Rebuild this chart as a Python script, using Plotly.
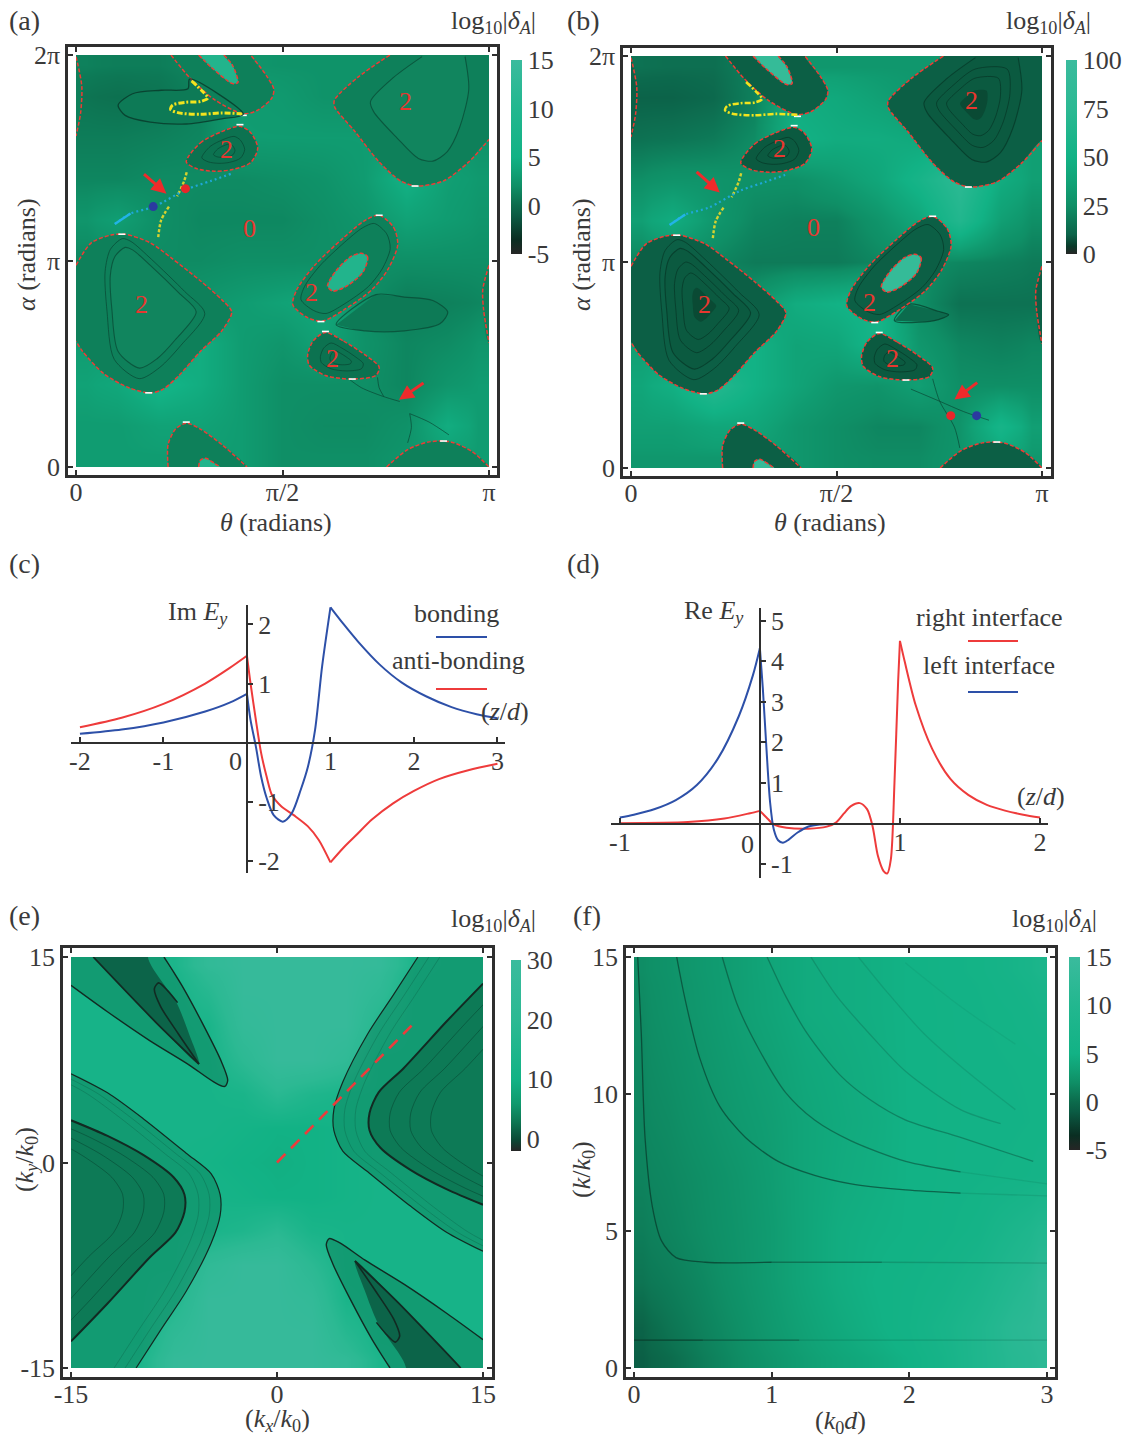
import plotly.graph_objects as go

SERIF = "Liberation Serif"
INK = "#3a3a3a"
FS = 26
W, H = 1130, 1437

# ---------- colour scales ----------
scale_15 = [[0, "#262626"], [0.075, "#0a2e22"], [0.2, "#0b5c44"], [0.25, "#0c6b4c"], [0.35, "#0f8f66"],
            [0.425, "#11a276"], [0.5, "#12b285"], [0.75, "#22b78f"], [1, "#3abb9d"]]
scale_100 = [[0, "#262626"], [0.04, "#0a3a2a"], [0.1, "#0c6349"], [0.25, "#0f8f66"], [0.37, "#11a276"],
             [0.5, "#12b285"], [0.75, "#2cb993"], [1, "#3abb9d"]]
scale_30 = [[0, "#262626"], [0.06, "#0b4a36"], [0.15, "#0d7552"], [0.25, "#0f9a6e"], [0.375, "#12b285"],
            [0.69, "#2cb993"], [1, "#3abb9d"]]

# ---------- panel (a), (b) background ----------
ab_x_edges = [0, .05, .15, .25, .35, .45, .55, .65, .75, .85, .95, 1]
ab_y_edges = [0, .1, .3, .5, .7, .9, 1.1, 1.3, 1.5, 1.7, 1.9, 2]
a_z = [
    [3.0, 3.0, 3.0, 3.0, 3.0, 2.0, 2.0, 2.0, 2.5, 3.0, 3.0],
    [3.0, 3.0, 3.5, 3.5, 3.0, 2.0, 1.8, 1.8, 2.2, 4.5, 3.0],
    [3.5, 4.0, 5.5, 4.5, 3.0, 2.0, 2.0, 2.0, 1.5, 2.5, 3.0],
    [3.0, 3.0, 3.0, 4.5, 3.0, 2.5, 3.5, 2.2, 1.5, 1.8, 2.5],
    [2.5, 2.0, 2.0, 2.5, 3.0, 3.5, 4.0, 2.0, 1.0, 1.2, 1.5],
    [1.5, 1.8, 1.8, 1.8, 2.0, 2.0, 2.0, 2.0, 2.0, 2.0, 2.0],
    [2.5, 3.2, 2.0, 1.6, 1.6, 1.6, 2.0, 2.5, 3.5, 3.0, 2.5],
    [1.5, 1.5, 1.8, 1.8, 1.8, 2.0, 2.3, 3.0, 5.0, 3.2, 2.8],
    [1.0, 1.0, 1.2, 1.5, 3.0, 3.0, 3.0, 3.0, 3.0, 2.7, 2.3],
    [0.5, 0.3, 0.5, 1.2, 3.0, 2.8, 2.3, 2.3, 2.3, 2.3, 2.3],
    [1.2, 1.0, 1.0, 1.5, 2.5, 2.3, 2.3, 2.3, 2.3, 2.3, 2.3],
]
b_z = [
    [30, 30, 30, 30, 30, 25, 24, 24, 28, 35, 30],
    [35, 35, 40, 40, 30, 25, 22, 22, 28, 55, 35],
    [40, 48, 68, 50, 38, 30, 28, 35, 25, 25, 25],
    [35, 35, 35, 50, 38, 40, 55, 30, 22, 20, 22],
    [25, 20, 20, 30, 45, 50, 55, 25, 15, 15, 15],
    [20, 25, 22, 18, 18, 18, 22, 25, 22, 20, 18],
    [35, 45, 30, 22, 20, 20, 28, 40, 65, 35, 25],
    [25, 28, 28, 26, 26, 32, 40, 55, 75, 45, 35],
    [15, 16, 18, 24, 50, 45, 45, 42, 42, 38, 35],
    [10, 10, 12, 20, 45, 42, 36, 30, 30, 30, 30],
    [15, 14, 14, 20, 30, 30, 30, 30, 30, 30, 30],
]

# ---------- island outlines shared by (a), (b); theta/pi, alpha/pi ----------
left_x = [0, .037, .085, .119, .180, .232, .301, .353, .377, .353, .301, .249, .210, .180, .128, .068, .016, 0]
left_y = [.979, 1.088, 1.126, 1.130, 1.088, 1.013, .904, .812, .753, .661, .561, .444, .377, .360, .385, .452, .561, .611]
left_in_x = [.119, .094, .083, .087, .102, .154, .197, .241, .291, .249, .180, .137]
left_in_y = [1.066, 1.021, .929, .762, .561, .480, .527, .619, .753, .845, .979, 1.054]
left_centre = (.175, .80)
ur_x = [.760, .682, .626, .626, .674, .734, .786, .825, .890, .951, 1]
ur_y = [2, 1.891, 1.782, 1.749, 1.632, 1.481, 1.389, 1.364, 1.389, 1.481, 1.590]
ur_in_x = [.838, .769, .713, .721, .777, .829, .864, .899, .929, .951, .942]
ur_in_y = [1.992, 1.891, 1.774, 1.724, 1.598, 1.498, 1.485, 1.531, 1.649, 1.833, 1.992]
ur_centre = (.835, 1.77)
ul_x = [0, .014, .011, 0]
ul_y = [1.992, 1.849, 1.716, 1.607]
er_x = [1, .985, .987, 1]
er_y = [.979, .862, .762, .603]
top_x = [.230, .275, .336, .405, .440, .474, .479, .461, .423]
top_y = [2, 1.891, 1.782, 1.715, 1.732, 1.791, 1.833, 1.900, 2]
top_h_x = [.297, .327, .379, .392, .379, .358]
top_h_y = [2, 1.941, 1.861, 1.866, 1.950, 2]
bot_x = [.223, .223, .241, .267, .301, .353, .414]
bot_y = [0, .109, .184, .213, .184, .109, 0]
bot_h_x = [.297, .301, .314, .336, .349]
bot_h_y = [0, .033, .042, .017, 0]
mid_x = [.267, .301, .353, .397, .423, .440, .423, .379, .336, .293]
mid_y = [1.481, 1.573, 1.628, 1.654, 1.623, 1.548, 1.478, 1.444, 1.436, 1.448]
cen_x = [.734, .769, .779, .756, .717, .648, .596, .561, .525, .535, .578, .648, .700]
cen_y = [1.222, 1.163, 1.079, .962, .862, .762, .708, .725, .787, .862, .979, 1.113, 1.197]
cen_h_x = [.691, .706, .695, .656, .622, .609, .630, .665]
cen_h_y = [1.038, 1.021, .946, .879, .854, .879, .954, 1.021]
low_x = [.604, .648, .700, .734, .726, .665, .604, .565, .561, .574]
low_y = [.653, .611, .544, .485, .444, .427, .444, .494, .544, .611]
br_x = [.752, .803, .855, .907, .959, 1]
br_y = [0, .084, .122, .122, .075, 0]
lens1_x = [.275, .271, .206, .137, .102, .119, .180, .267, .353, .405]
lens1_y = [1.883, 1.836, 1.829, 1.812, 1.757, 1.707, 1.674, 1.665, 1.690, 1.712]
lens2_x = [.726, .795, .864, .900, .881, .795, .700, .630]
lens2_y = [.837, .825, .808, .753, .695, .661, .661, .691]
lens2b_x = [.676, .747, .773, .738, .641]
lens2b_y = [.795, .761, .744, .715, .715]
yel1_x = [.280, .306, .319, .301, .267, .234, .229, .249, .301, .353, .405]
yel1_y = [1.874, 1.824, 1.791, 1.774, 1.771, 1.757, 1.736, 1.719, 1.712, 1.719, 1.714]
yel2_x = [.268, .262, .245]
yel2_y = [1.431, 1.389, 1.314]
yel3_x = [.225, .206, .199]
yel3_y = [1.264, 1.197, 1.113]
cyan_x = [.094, .132, .189, .267, .327, .375]
cyan_y = [1.180, 1.230, 1.264, 1.347, 1.389, 1.423]
cyan2_x = [.094, .132]
cyan2_y = [1.180, 1.230]
white_x = [.405, .397, .734, .593, .604, .669, .821, .267, .176, .111, .890]
white_y = [1.707, 1.662, 1.222, .706, .658, .427, 1.364, .218, .360, 1.130, .126]
thin_a = [([.661, .691, .743, .784], [.427, .385, .343, .318]),
          ([.730, .734, .745], [.435, .385, .343]),
          ([.808, .855, .903], [.259, .218, .156]),
          ([.808, .812, .803], [.259, .192, .117])]
thin_b = [([.681, .751, .809, .871], [.383, .324, .274, .232]),
          ([.734, .751, .787, .800], [.433, .324, .198, .097])]
a_marks = [(.797, 1.774, "2"), (.364, 1.540, "2"), (.420, 1.160, "0"), (.158, .787, "2"), (.570, .845, "2"), (.621, .527, "2")]
b_marks = [(.829, 1.785, "2"), (.362, 1.55, "2"), (.443, 1.169, "0"), (.179, .794, "2"), (.581, .803, "2"), (.636, .534, "2")]
ab_ticks_x = [0, .5, 1]
ab_ticktext_x = ["0", "π/2", "π"]
ab_ticks_y = [0, 1, 2]
ab_ticktext_y = ["0", "π", "2π"]

# ---------- panel (c) ----------
c_blue_l_x = [-2, -1.5, -1, -.5, -.2, 0]
c_blue_l_y = [.147, .22, .34, .525, .68, .825]
c_blue_m_x = [0, .043, .107, .17, .236, .32, .43, .536, .644, .73, .815, .9, 1]
c_blue_m_y = [.825, .38, -.07, -.58, -.94, -1.23, -1.34, -1.2, -.8, -.41, .21, 1.29, 2.29]
c_blue_r_x = [1, 1.16, 1.33, 1.59, 1.85, 2.15, 2.45, 2.75, 3]
c_blue_r_y = [2.29, 2.0, 1.71, 1.32, 1.02, .78, .6, .48, .41]
c_red_l_x = [-2, -1.5, -1, -.5, -.21, 0]
c_red_l_y = [.26, .42, .655, 1.0, 1.26, 1.47]
c_red_m_x = [0, .043, .107, .17, .236, .30, .41, .56, .73, .86, 1]
c_red_m_y = [1.47, 1.0, .38, -.18, -.58, -.89, -1.08, -1.23, -1.42, -1.65, -2.03]
c_red_r_x = [1, 1.15, 1.3, 1.5, 1.75, 2.0, 2.3, 2.65, 3]
c_red_r_y = [-2.03, -1.79, -1.58, -1.3, -1.03, -.82, -.62, -.47, -.36]

# ---------- panel (d) ----------
d_blue_l_x = [-1, -.9, -.75, -.6, -.45, -.3, -.15, -.05, 0]
d_blue_l_y = [.15, .22, .36, .58, .95, 1.6, 2.65, 3.65, 4.32]
d_blue_r_x = [0, .021, .047, .073, .099, .13, .164, .204, .269, .347, .426, .517]
d_blue_r_y = [4.32, 3.33, 1.84, .52, -.14, -.41, -.47, -.40, -.22, -.07, -.02, -.01]
d_red_l_x = [-1, -.514, -.253, -.07, 0]
d_red_l_y = [.01, .04, .124, .256, .314]
d_red_m_x = [0, .047, .099, .19, .347, .478, .543, .6, .65, .713, .765, .804, .843, .883, .909, .935, .961, .987, 1]
d_red_m_y = [.314, .15, -.017, -.1, -.124, -.074, .025, .25, .43, .504, .355, -.058, -.80, -1.17, -1.23, -.88, 1.02, 3.5, 4.5]
d_red_r_x = [1, 1.034, 1.112, 1.23, 1.36, 1.49, 1.62, 1.75, 1.88, 2]
d_red_r_y = [4.5, 3.99, 2.92, 1.84, 1.10, .70, .46, .32, .22, .15]

# ---------- panel (e) ----------
e_edges = [-15, -13.75, -11.25, -8.75, -6.25, -3.75, -1.25, 1.25, 3.75, 6.25, 8.75, 11.25, 13.75, 15]
e_z = [
    [12, 12, 14, 26, 27, 27, 27, 27, 24, 14, 12, 12, 12],
    [12, 12, 12, 22, 27, 27, 27, 27, 18, 12, 12, 12, 12],
    [12, 12, 12, 16, 27, 27, 27, 25, 13, 12, 12, 12, 12],
    [12, 12, 12, 12, 23, 27, 27, 20, 12, 12, 12, 12, 12],
    [12, 12, 12, 12, 13, 15, 19, 13, 12, 12, 12, 12, 12],
    [12, 12, 12, 12, 12, 11, 10, 10, 11, 12, 12, 12, 12],
    [12, 12, 12, 12, 11, 10, 9.5, 10, 11, 12, 12, 12, 12],
    [12, 12, 12, 12, 12, 11, 10, 10, 11, 12, 12, 12, 12],
    [12, 12, 12, 12, 12, 13, 19, 15, 13, 12, 12, 12, 12],
    [12, 12, 12, 12, 12, 20, 27, 27, 23, 12, 12, 12, 12],
    [12, 12, 12, 12, 13, 25, 27, 27, 27, 16, 12, 12, 12],
    [12, 12, 12, 12, 18, 27, 27, 27, 27, 22, 12, 12, 12],
    [12, 12, 12, 14, 24, 27, 27, 27, 27, 26, 14, 12, 12],
]
e_out_x = [10.26, 8.44, 6.61, 4.79, 4.14, 4.14, 4.79, 6.61, 9.74, 12.34, 15]
e_out_y = [15, 12.18, 9.40, 5.87, 3.86, 2.34, .83, -.68, -3.20, -5.09, -6.48]
e_in_x = [15, 12.34, 9.22, 7.40, 6.74, 6.74, 7.53, 9.74, 12.34, 15]
e_in_y = [13.06, 10.29, 6.88, 5.12, 3.61, 2.34, 1.08, -.55, -1.94, -3.08]
e_w_x = [-15, -12.4, -9.27, -6.41, -4.58, -3.80, -3.59, -4.06, -5.36, -6.93, -8.23]
e_w_y = [12.93, 11.04, 8.90, 7.13, 5.87, 5.55, 6.0, 7.39, 10.03, 12.93, 15]
e_d_x = [-13.38, -8.75, -5.68, -6.41, -7.32, -9.40]
e_d_y = [15, 10.16, 7.19, 9.4, 11.67, 15]
e_loop_x = [-5.68, -7.19, -8.49, -8.93, -8.62, -7.97, -7.24]
e_loop_y = [7.19, 9.40, 11.42, 12.68, 13.11, 12.55, 11.67]
e_red_x = [0, 10]
e_red_y = [0, 10.2]
e_ticks = [-15, 0, 15]

# ---------- panel (f) ----------
f_x_edges = [0, .125, .375, .625, .875, 1.125, 1.375, 1.625, 1.875, 2.125, 2.375, 2.625, 2.875, 3]
f_y_edges = [0, .75, 2.25, 4, 6, 8, 10, 12, 14, 15]
f_z = [
    [-.8, 0, 1, 1.8, 2.5, 3.2, 3.8, 4.3, 5, 6.5, 9, 11, 12],
    [-.5, .5, 1.3, 2, 2.8, 3.5, 4.2, 4.8, 5.5, 7, 9, 11.5, 12.5],
    [.5, 1, 1.6, 2.3, 3, 3.8, 4.5, 5, 5.3, 6, 7.5, 10, 12],
    [1, 1.4, 1.9, 2.4, 3, 3.8, 4.5, 4.8, 5, 5.3, 6, 8, 10],
    [1.3, 1.6, 2, 2.5, 3.1, 3.8, 4.3, 4.6, 5, 5.2, 5.4, 5.6, 6],
    [1.5, 1.8, 2.3, 2.8, 3.2, 3.8, 4.2, 4.5, 5, 5.2, 5.3, 5.4, 5.6],
    [1.6, 2, 2.5, 3, 3.4, 4, 4.3, 4.6, 5, 5.2, 5.3, 5.5, 5.6],
    [1.7, 2.2, 2.7, 3.2, 3.7, 4.3, 4.5, 4.7, 5, 5.2, 5.4, 5.8, 6.5],
    [1.9, 2.3, 2.8, 3.2, 3.8, 4.3, 4.5, 4.7, 5, 5.3, 5.6, 6.5, 8],
]
f_curves = [
    ([0, .5], [1.02, 1.02], .85),
    ([.5, 1.2], [1.02, 1.02], .55),
    ([1.2, 3], [1.02, 1.02], .18),
    ([.027, .053, .08, .133, .2, .305, .517, 1.0], [15, 12.2, 8.42, 5.9, 4.64, 4.03, 3.86, 3.86], .75),
    ([1.0, 1.8], [3.86, 3.86], .45),
    ([1.8, 3], [3.86, 3.83], .22),
    ([.31, .371, .477, .623, .808, 1.047, 1.312, 1.577, 1.974, 2.372], [15, 13.46, 11.32, 9.55, 8.42, 7.54, 7.03, 6.72, 6.5, 6.38], .65),
    ([2.372, 3], [6.38, 6.28], .12),
    ([.641, .755, .914, 1.1, 1.312, 1.577, 1.974, 2.372], [15, 13.2, 11.57, 10.06, 9.05, 8.29, 7.54, 7.16], .5),
    ([2.372, 3], [7.16, 6.72], .1),
    ([.967, 1.1, 1.259, 1.497, 1.71, 1.974, 2.372, 2.9], [15, 13.59, 12.2, 10.69, 9.81, 9.05, 8.42, 7.54], .38),
    ([1.285, 1.47, 1.71, 1.974, 2.372, 2.663], [15, 13.59, 12.2, 10.82, 9.43, 8.92], .22),
    ([1.63, 1.84, 2.107, 2.45, 2.77], [15, 13.71, 12.2, 10.69, 9.43], .14),
    ([1.97, 2.37, 2.77], [14.79, 13.2, 11.82], .07),
]

# ---------- helpers ----------
fig = go.Figure()
annotations, shapes, layout = [], [], {}


def fx(p):
    return p / W


def fy(p):
    return 1 - p / H


def axes(n, fr, da, rx, ry, ticks_x, text_x, ticks_y, text_y):
    """Framed, ticked outer axes n with hidden inner axes n+10 that clip the data to the plot area."""
    suffix = "" if n == 1 else str(n)
    sx = (rx[1] - rx[0]) / (da[1] - da[0])
    sy = (ry[1] - ry[0]) / (da[3] - da[2])
    common = dict(showgrid=False, zeroline=False, showline=True, linecolor="#2f2f2f", linewidth=2.5, mirror="ticks",
                  ticks="inside", ticklen=5, tickwidth=2, tickcolor="#2f2f2f",
                  tickfont=dict(family=SERIF, size=FS, color=INK), automargin=False)
    layout["xaxis" + suffix] = dict(common, domain=[fx(fr[0]), fx(fr[1])], anchor="y" + suffix,
                                    range=[rx[0] - (da[0] - fr[0]) * sx, rx[1] + (fr[1] - da[1]) * sx],
                                    tickvals=ticks_x, ticktext=text_x, ticklabelstandoff=-8)
    layout["yaxis" + suffix] = dict(common, domain=[fy(fr[3]), fy(fr[2])], anchor="x" + suffix,
                                    range=[ry[0] - (fr[3] - da[3]) * sy, ry[1] + (da[2] - fr[2]) * sy],
                                    tickvals=ticks_y, ticktext=text_y)
    fig.add_trace(go.Scatter(x=[None], y=[None], xaxis="x" + suffix, yaxis="y" + suffix, mode="lines",
                             hoverinfo="skip", showlegend=False))
    m = str(n + 10)
    layout["xaxis" + m] = dict(domain=[fx(da[0]), fx(da[1])], range=rx, anchor="y" + m, visible=False)
    layout["yaxis" + m] = dict(domain=[fy(da[3]), fy(da[2])], range=ry, anchor="x" + m, visible=False)
    return "x" + m, "y" + m


def heat(x, y, z, xa, ya, scale, zmin, zmax, vals, bar):
    fig.add_trace(go.Heatmap(x=x, y=y, z=z, xaxis=xa, yaxis=ya, colorscale=scale, zmin=zmin, zmax=zmax,
                             zsmooth="best", hoverinfo="skip",
                             colorbar=dict(x=fx(bar[0]), xanchor="left", xpad=0, y=fy(bar[1]), yanchor="top", ypad=0,
                                           thicknessmode="pixels", thickness=bar[2], lenmode="pixels",
                                           len=bar[3] - bar[1], outlinewidth=0, ticks="", tickvals=vals,
                                           ticktext=[str(v) for v in vals],
                                           tickfont=dict(family=SERIF, size=FS, color=INK))))


def fill(x, y, color, xa, ya):
    fig.add_trace(go.Scatter(x=x, y=y, xaxis=xa, yaxis=ya, mode="lines", fill="toself", fillcolor=color,
                             line=dict(width=0, shape="spline", smoothing=.8), hoverinfo="skip", showlegend=False))


def line(x, y, color, width, xa, ya, dash="solid", shape="spline"):
    fig.add_trace(go.Scatter(x=x, y=y, xaxis=xa, yaxis=ya, mode="lines",
                             line=dict(color=color, width=width, dash=dash, shape=shape, smoothing=.8),
                             hoverinfo="skip", showlegend=False))


def closed(v):
    return list(v) + [v[0]]


def ring(x, y, f, centre=None):
    cx, cy = centre if centre else (sum(x) / len(x), sum(y) / len(y))
    return closed([cx + (p - cx) * f for p in x]), closed([cy + (p - cy) * f for p in y])


def note(x, y, text, size=FS, color=INK, xref="paper", yref="paper", **kw):
    annotations.append(dict(x=x, y=y, text=text, showarrow=False, xref=xref, yref=yref, xanchor="center",
                            yanchor="middle", font=dict(family=SERIF, size=size, color=color), **kw))


def note_px(xp, yp, text, size=FS, **kw):
    note(fx(xp), fy(yp), text, size=size, **kw)


def arrow(tail, head, xa, ya):
    annotations.append(dict(x=head[0], y=head[1], ax=tail[0], ay=tail[1], xref=xa, yref=ya, axref=xa, ayref=ya,
                            text="", showarrow=True, arrowhead=2, arrowsize=1, arrowwidth=3, arrowcolor="#ee2b2b",
                            standoff=0, startstandoff=0))


RED = "#ee3b35"
DELTA = "log<sub>10</sub>|<i>δ<sub>A</sub></i>|"


def islands(xa, ya, dark, deep, contour, hole_fill, strong, yellow_w, marks, thin, lens, lens_col, dots, spot):
    fill(lens[0], lens[1], lens_col, xa, ya)
    line(closed(lens[0]), closed(lens[1]), contour, 1.2, xa, ya)
    for x, y in [(mid_x, mid_y), (cen_x, cen_y), (low_x, low_y)]:
        fill(closed(x), closed(y), dark, xa, ya)
    fill(left_x + [-.05, -.05], left_y + [.611, .979], dark, xa, ya)
    fill(ur_x + [1.06, 1.06, .76], ur_y + [1.59, 2.06, 2.06], dark, xa, ya)
    fill(ul_x + [-.05, -.05], ul_y + [1.607, 1.992], dark, xa, ya)
    fill(er_x + [1.05, 1.05], er_y + [.603, .979], dark, xa, ya)
    fill(top_x + [.423, .23], top_y + [2.06, 2.06], dark, xa, ya)
    fill(bot_x + [.414, .223], bot_y + [-.06, -.06], dark, xa, ya)
    fill(br_x + [1, .752], br_y + [-.06, -.06], dark, xa, ya)
    fill(closed(mid_x), closed(mid_y), deep, xa, ya)
    fill(closed(low_x), closed(low_y), deep, xa, ya)
    # fine contours inside islands
    inner = deep if strong else "rgba(20,135,97,.65)"
    fill(closed(left_in_x), closed(left_in_y), inner, xa, ya)
    line(closed(left_in_x), closed(left_in_y), contour, 1.1, xa, ya)
    rx, ry = ring(left_in_x, left_in_y, 1.16)
    line(rx, ry, contour, 1, xa, ya)
    fill(ur_in_x + [.942, .838], ur_in_y + [2.06, 2.06], inner, xa, ya)
    line(ur_in_x, ur_in_y, contour, 1.1, xa, ya)
    for f in ([.75, .55] if strong else []):
        rx, ry = ring(left_in_x, left_in_y, f, left_centre)
        line(rx, ry, contour, 1, xa, ya)
        rx, ry = ring(ur_in_x, ur_in_y, f, ur_centre)
        line(rx, ry, contour, 1, xa, ya)
    for x, y, f in [(cen_x, cen_y, .85), (mid_x, mid_y, .6), (low_x, low_y, .6), (mid_x, mid_y, .3), (low_x, low_y, .3)]:
        rx, ry = ring(x, y, f)
        line(rx, ry, contour, 1, xa, ya)
    if spot:
        rx, ry = ring(left_in_x, left_in_y, .28, left_centre)
        fill(rx, ry, spot, xa, ya)
        rx, ry = ring(ur_in_x, ur_in_y, .28, ur_centre)
        fill(rx, ry, spot, xa, ya)
    # holes
    fill(closed(cen_h_x), closed(cen_h_y), hole_fill, xa, ya)
    fill(top_h_x + [.358, .297], top_h_y + [2.06, 2.06], hole_fill, xa, ya)
    fill(bot_h_x + [.349, .297], bot_h_y + [-.06, -.06], hole_fill, xa, ya)
    # red dashed boundaries
    for x, y in [(left_x, left_y), (ur_x, ur_y), (ul_x, ul_y), (er_x, er_y), (top_x, top_y), (bot_x, bot_y),
                 (br_x, br_y), (top_h_x, top_h_y), (bot_h_x, bot_h_y)]:
        line(x, y, RED, 1.5, xa, ya, dash="4px,2px")
    for x, y in [(mid_x, mid_y), (cen_x, cen_y), (low_x, low_y), (cen_h_x, cen_h_y)]:
        line(closed(x), closed(y), RED, 1.5, xa, ya, dash="4px,2px")
    for x, y in thin:
        line(x, y, "rgba(8,60,44,.6)", 1, xa, ya)
    # white gaps
    fig.add_trace(go.Scatter(x=white_x, y=white_y, xaxis=xa, yaxis=ya, mode="markers", hoverinfo="skip", showlegend=False,
                             marker=dict(symbol="line-ew", size=5, line=dict(color="white", width=1.6))))
    # yellow / cyan loci
    line(yel1_x, yel1_y, "#f2e41e", yellow_w, xa, ya, dash="6px,2px,2px,2px")
    line(yel2_x, yel2_y, "#d6d22f", 2.4, xa, ya, dash="3px,2px")
    line(yel3_x, yel3_y, "#d6d22f", 2.4, xa, ya, dash="3px,2px")
    line(cyan_x, cyan_y, "#1ea8d8", 2.2, xa, ya, dash="2px,3px")
    line(cyan2_x, cyan2_y, "#22b4e6", 2.4, xa, ya)
    for dx, dy, col in dots:
        fig.add_trace(go.Scatter(x=[dx], y=[dy], xaxis=xa, yaxis=ya, mode="markers", hoverinfo="skip", showlegend=False,
                                 marker=dict(color=col, size=9)))
    for mx, my, t in marks:
        note(mx, my, t, color="#e8372f", xref=xa, yref=ya)


# ---------- panel a ----------
xa, ya = axes(1, (68, 497, 47, 475), (76, 489, 55, 467), [0, 1], [0, 2], ab_ticks_x, ab_ticktext_x, ab_ticks_y, ab_ticktext_y)
heat(ab_x_edges, ab_y_edges, a_z, xa, ya, scale_15, -5, 15, [-5, 0, 5, 10, 15], (511, 60, 11, 254))
fill(lens1_x, lens1_y, "#0d7a56", xa, ya)
islands(xa, ya, "#0e805a", "#0c7250", "rgba(8,70,50,.7)", "#22b48c", False, 3, a_marks, thin_a,
        (lens2_x, lens2_y), "#0d7a56",
        [(.187, 1.264, "#2b3aa0"), (.265, 1.351, "#e8262a")], None)
line(closed(lens1_x), closed(lens1_y), "rgba(8,60,44,.85)", 1.3, xa, ya)
arrow((.161, 1.428), (.219, 1.327), xa, ya)
arrow((.845, .413), (.782, .326), xa, ya)
note_px(276, 522, "<i>θ</i> (radians)")
note_px(26, 255, "<i>α</i> (radians)", textangle=-90)

# ---------- panel b ----------
xa, ya = axes(2, (623, 1051, 48, 476), (631, 1042, 56, 468), [0, 1], [0, 2], ab_ticks_x, ab_ticktext_x, ab_ticks_y, ab_ticktext_y)
heat(ab_x_edges, ab_y_edges, b_z, xa, ya, scale_100, 0, 100, [0, 25, 50, 75, 100], (1066, 60, 11, 254))
islands(xa, ya, "#0c5f45", "#0b5a40", "rgba(6,50,36,.65)", "#35bb98", True, 2.6, b_marks, thin_b,
        (lens2b_x, lens2b_y), "#0c6b4d",
        [(.778, .254, "#e8262a"), (.841, .254, "#2b3aa0")], "#0a4a34")
arrow((.156, 1.444), (.216, 1.337), xa, ya)
arrow((.846, .420), (.787, .332), xa, ya)
note_px(830, 522, "<i>θ</i> (radians)")
note_px(581, 255, "<i>α</i> (radians)", textangle=-90)


# ---------- free-axis line panels ----------
def line_axes(n, fr, rng_x, rng_y, ticks_x, text_x, ticks_y, text_y):
    sfx = str(n)
    x0_frac = fx(fr[0] + (0 - rng_x[0]) / (rng_x[1] - rng_x[0]) * (fr[1] - fr[0]))
    y0_frac = fy(fr[3] - (0 - rng_y[0]) / (rng_y[1] - rng_y[0]) * (fr[3] - fr[2]))
    common = dict(showgrid=False, zeroline=False, showline=True, linecolor="#2f2f2f", linewidth=2, ticklen=5,
                  tickwidth=1.5, tickcolor="#2f2f2f", tickfont=dict(family=SERIF, size=FS, color=INK), automargin=False)
    layout["xaxis" + sfx] = dict(common, domain=[fx(fr[0]), fx(fr[1])], range=rng_x, anchor="free", position=y0_frac,
                                 tickvals=ticks_x, ticktext=text_x, ticks="inside", side="bottom", ticklabelstandoff=-5)
    layout["yaxis" + sfx] = dict(common, domain=[fy(fr[3]), fy(fr[2])], range=rng_y, anchor="free", position=x0_frac,
                                 tickvals=ticks_y, ticktext=text_y, ticks="outside", side="right")
    return "x" + sfx, "y" + sfx


BLUE = "#2d50a8"
CRED = "#ee3b3b"
xa, ya = line_axes(3, (71, 505, 605, 873), [-2.107, 3.09], [-2.21, 2.33], [-2, -1, 0, 1, 2, 3],
                   ["-2", "-1", "", "1", "2", "3"], [-2, -1, 1, 2], ["-2", "-1", "1", "2"])
for x, y, c in [(c_red_l_x, c_red_l_y, CRED), (c_red_m_x, c_red_m_y, CRED), (c_red_r_x, c_red_r_y, CRED),
                (c_blue_l_x, c_blue_l_y, BLUE), (c_blue_m_x, c_blue_m_y, BLUE), (c_blue_r_x, c_blue_r_y, BLUE)]:
    line(x, y, c, 2, xa, ya)
note_px(235, 761, "0")
note_px(198, 613, "Im <i>E<sub>y</sub></i>")
note_px(457, 613, "bonding")
note_px(458, 661, "anti-bonding")
note_px(505, 711, "(<i>z</i>/<i>d</i>)")
shapes.append(dict(type="line", xref="paper", yref="paper", x0=fx(436), x1=fx(487), y0=fy(637), y1=fy(637),
                   line=dict(color=BLUE, width=2)))
shapes.append(dict(type="line", xref="paper", yref="paper", x0=fx(436), x1=fx(487), y0=fy(689), y1=fy(689),
                   line=dict(color=CRED, width=2)))

xa, ya = line_axes(4, (611, 1048, 608, 878), [-1.063, 2.057], [-1.34, 5.31], [-1, 0, 1, 2],
                   ["-1", "", "1", "2"], [-1, 1, 2, 3, 4, 5], ["-1", "1", "2", "3", "4", "5"])
for x, y, c in [(d_red_l_x, d_red_l_y, CRED), (d_red_m_x, d_red_m_y, CRED), (d_red_r_x, d_red_r_y, CRED),
                (d_blue_l_x, d_blue_l_y, BLUE), (d_blue_r_x, d_blue_r_y, BLUE)]:
    line(x, y, c, 2, xa, ya)
note_px(747, 844, "0")
note_px(714, 612, "Re <i>E<sub>y</sub></i>")
note_px(989, 617, "right interface")
note_px(989, 665, "left interface")
note_px(1041, 796, "(<i>z</i>/<i>d</i>)")
shapes.append(dict(type="line", xref="paper", yref="paper", x0=fx(968), x1=fx(1018), y0=fy(641), y1=fy(641),
                   line=dict(color=CRED, width=2)))
shapes.append(dict(type="line", xref="paper", yref="paper", x0=fx(968), x1=fx(1018), y0=fy(692), y1=fy(692),
                   line=dict(color=BLUE, width=2)))

# ---------- panel e ----------
xa, ya = axes(5, (63, 492, 948, 1377), (71, 483, 957, 1368), [-15, 15], [-15, 15],
              e_ticks, ["-15", "0", "15"], e_ticks, ["-15", "0", "15"])
heat(e_edges, e_edges, e_z, xa, ya, scale_30, -2, 30, [0, 10, 20, 30], (511, 960, 10, 1151))
BAND = "rgba(15,135,96,.55)"
for s in (1, -1):
    ox = [s * v for v in e_out_x]
    oy = [s * v for v in e_out_y]
    ix = [s * v for v in e_in_x]
    iy = [s * v for v in e_in_y]
    wx = [s * v for v in e_w_x]
    wy = [s * v for v in e_w_y]
    dx = [s * v for v in e_d_x]
    dy = [s * v for v in e_d_y]
    lx = [s * v for v in e_loop_x]
    ly = [s * v for v in e_loop_y]
    fill(ox + [s * 17, s * 17, s * 10.26], oy + [s * -6.48, s * 17, s * 17], BAND, xa, ya)
    for off in (.8, 1.6):
        line([v + s * off for v in ox], oy, "rgba(8,70,50,.25)", 1, xa, ya)
    fill(ix + [s * 17, s * 17], iy + [s * -3.08, s * 13.06], "#0d7a56", xa, ya)
    for off in (1.5, 3, 4.5):
        line([v + s * off for v in ix], iy, "rgba(6,50,36,.4)", 1, xa, ya)
    line(ox, oy, "#122a22", 1.2, xa, ya)
    line(ix, iy, "#122a22", 2, xa, ya)
    fill(wx + [s * -8.23, s * -17, s * -17], wy + [s * 17, s * 17, s * 12.93], BAND, xa, ya)
    fill(dx + [s * -8.8, s * -14.4], dy + [s * 17, s * 17], "#0c6449", xa, ya)
    line(wx, wy, "#122a22", 1.4, xa, ya)
    line(dx[:3], dy[:3], "#122a22", 1.8, xa, ya)
    line(lx, ly, "#122a22", 1.6, xa, ya)
line(e_red_x, e_red_y, "#ee3b3b", 2.6, xa, ya, dash="12px,8px", shape="linear")
note_px(277, 1420, "(<i>k<sub>x</sub></i>/<i>k</i><sub>0</sub>)")
note_px(26, 1160, "(<i>k<sub>y</sub></i>/<i>k</i><sub>0</sub>)", textangle=-90)

# ---------- panel f ----------
xa, ya = axes(6, (626, 1055, 948, 1377), (634, 1047, 957, 1368), [0, 3], [0, 15],
              [0, 1, 2, 3], ["0", "1", "2", "3"], [0, 5, 10, 15], ["0", "5", "10", "15"])
heat(f_x_edges, f_y_edges, f_z, xa, ya, scale_15, -5, 15, [-5, 0, 5, 10, 15], (1069, 957, 11, 1150))
for x, y, alpha in f_curves:
    line(x, y, "rgba(8,60,44,%.2f)" % alpha, 1.3, xa, ya)
note_px(840, 1422, "(<i>k</i><sub>0</sub><i>d</i>)")
note_px(583, 1170, "(<i>k</i>/<i>k</i><sub>0</sub>)", textangle=-90)

# ---------- panel tags and legend titles ----------
for xp, yp, t in [(24, 20, "(a)"), (583, 20, "(b)"), (24, 563, "(c)"), (583, 563, "(d)"), (24, 915, "(e)"), (587, 915, "(f)")]:
    note_px(xp, yp, t, size=28)
for xp, yp in [(493, 22), (1048, 22), (493, 920), (1054, 920)]:
    note_px(xp, yp, DELTA)

fig.update_layout(width=W, height=H, margin=dict(l=0, r=0, t=0, b=0), paper_bgcolor="white", plot_bgcolor="white",
                  showlegend=False, annotations=annotations, shapes=shapes, **layout)
fig.write_html("out.html", config={"displayModeBar": False}, post_script="document.body.style.margin='0';")
